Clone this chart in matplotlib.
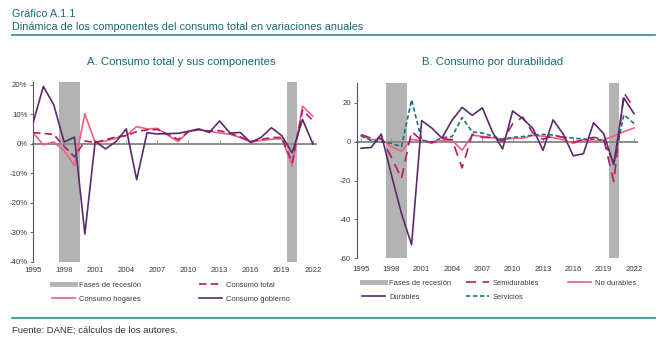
import matplotlib
matplotlib.use("Agg")
import matplotlib.pyplot as plt
from matplotlib.lines import Line2D

plt.rcParams['font.family'] = ['Liberation Sans', 'DejaVu Sans']

# ---- data (annual % change) ----
years = list(range(1995, 2023))
recessions = [(1997.5, 1999.5), (2019.5, 2020.5)]

consumo_total = [3.8, 3.6, 3.2, -0.8, -4.4, 1.0, 0.5, 1.4, 2.4, 2.8, 4.2, 4.8, 4.9, 3.3,
                 1.5, 4.2, 4.9, 4.4, 4.5, 3.6, 2.4, 0.9, 1.5, 2.2, 2.2, -6.2, 11.4, 7.9]
consumo_hogares = [3.8, -0.3, 0.7, -2.3, -7.3, 10.2, 0.5, 1.0, 2.0, 2.9, 5.9, 5.1, 5.3, 3.0,
                   0.8, 4.2, 4.8, 4.3, 3.7, 3.3, 2.2, 0.6, 1.2, 1.6, 1.8, -7.4, 12.8, 9.4]
consumo_gobierno = [7.1, 19.5, 13.3, 0.7, 2.3, -30.5, 0.9, -1.7, 0.8, 5.1, -12.1, 3.8, 3.4, 3.5,
                    3.6, 4.3, 5.1, 3.9, 7.8, 3.7, 3.9, 0.5, 2.2, 5.5, 2.8, -3.0, 8.3, 0.0]

durables = [-3.4, -3.0, 3.9, -17.0, -37.0, -53.0, 10.8, 7.0, 1.8, 11.0, 17.6, 13.5, 17.4, 5.0,
            -3.8, 15.8, 11.8, 6.8, -4.5, 11.2, 3.9, -7.3, -6.2, 9.7, 4.1, -11.8, 22.5, 14.4]
semidurables = [3.6, 1.8, 1.8, -8.0, -19.0, 5.3, 0.5, -0.7, 1.5, 1.0, -13.5, 3.8, 2.2, 2.0,
                0.3, 9.2, 12.6, 4.4, 1.2, 3.1, 2.2, -0.3, 1.0, 2.2, 1.4, -20.5, 25.0, 17.5]
no_durables = [3.1, 1.0, 1.2, -2.6, -4.9, 1.2, 0.4, -0.2, 0.5, 0.7, -4.4, 3.3, 2.7, 2.0,
               1.1, 1.7, 1.7, 3.2, 2.8, 2.1, 0.9, -0.8, 0.9, 0.1, 0.9, 3.0, 5.1, 7.0]
servicios = [3.0, 0.5, 0.0, -0.9, -2.6, 21.5, 0.8, -0.2, 2.0, 2.6, 12.4, 5.0, 4.4, 2.9,
             1.2, 2.2, 2.6, 3.4, 3.7, 3.4, 2.3, 1.8, 1.3, 1.2, 1.0, -11.2, 13.8, 9.4]

xlabels = years[::3]

TEAL = '#1b6870'
RULE = '#2b8e97'
GRAY = '#b3b3b3'
PURPLE = '#5b2a6b'
PINK = '#f0607a'
MAGENTA = '#b5186b'
DTEAL = '#1d6e76'
TXT = '#3a3a3a'

W, H = 668, 346
fig = plt.figure(figsize=(W / 100, H / 100), dpi=100)


def px(x, y):
    return x / W, 1 - y / H


def setup(ax, xlim, ylim, yticks, ylabels, label_pad):
    ax.set_xlim(*xlim)
    ax.set_ylim(*ylim)
    for a, b in recessions:
        ax.axvspan(a, b, color=GRAY, lw=0, zorder=0)
    for s in ['top', 'right']:
        ax.spines[s].set_visible(False)
    ax.spines['left'].set_color('#555555')
    ax.spines['left'].set_linewidth(0.8)
    ax.spines['bottom'].set_position(('data', 0))
    ax.spines['bottom'].set_color('#8c8c8c')
    ax.spines['bottom'].set_linewidth(1.4)
    ax.spines['bottom'].set_zorder(1)
    ax.set_yticks(yticks)
    ax.set_yticklabels(ylabels)
    ax.tick_params(axis='y', length=2.5, width=0.6, color='#555555',
                   labelsize=5.6, labelcolor=TXT, pad=1.5)
    ax.set_xticks(xlabels)
    ax.tick_params(axis='x', direction='in', length=3, width=0.6, color='#8c8c8c',
                   labelbottom=False)
    sec = ax.secondary_xaxis(0)
    sec.set_xticks(xlabels)
    sec.set_xticklabels([str(y) for y in xlabels])
    sec.spines['bottom'].set_visible(False)
    sec.tick_params(length=0, labelsize=5.6, labelcolor=TXT, pad=label_pad)


# ---- header ----
fig.text(*px(12, 14), 'Gráfico A.1.1', fontsize=7.8, color=TEAL, va='center')
fig.text(*px(12, 27), 'Dinámica de los componentes del consumo total en variaciones anuales',
         fontsize=7.8, color=TEAL, va='center')
fig.add_artist(Line2D([12 / W, 655 / W], [1 - 35 / H] * 2, color=RULE, lw=1.2))

# ---- panel A ----
axA = fig.add_axes([33 / W, 1 - 262 / H, 283 / W, 180 / H])
setup(axA, (1995, 2022.3), (-40, 21), [20, 10, 0, -10, -20, -30, -40],
      ['20%', '10%', '0%', '-10%', '-20%', '-30%', '-40%'], 3.5)
axA.plot(years, consumo_hogares, color=PINK, lw=1.2, zorder=3)
axA.plot(years, consumo_total, color=MAGENTA, lw=1.2, dashes=(4.5, 2.5), zorder=4)
axA.plot(years, consumo_gobierno, color=PURPLE, lw=1.2, zorder=5)
fig.text(*px(181, 62), 'A. Consumo total y sus componentes', fontsize=8.2,
         color=TEAL, ha='center', va='center')

# ---- panel B ----
axB = fig.add_axes([356.7 / W, 1 - 258.3 / H, 280.3 / W, 175 / H])
setup(axB, (1994.57, 2022.3), (-60, 30), [20, 0, -20, -40, -60],
      ['20', '0', '-20', '-40', '-60'], 5.5)
axB.plot(years, no_durables, color=PINK, lw=1.2, zorder=3)
axB.plot(years, servicios, color=DTEAL, lw=1.2, dashes=(2.6, 1.6), zorder=4)
axB.plot(years, semidurables, color=MAGENTA, lw=1.2, dashes=(6, 4), zorder=5)
axB.plot(years, durables, color=PURPLE, lw=1.2, zorder=6)
fig.text(*px(493, 62), 'B. Consumo por durabilidad', fontsize=8.2,
         color=TEAL, ha='center', va='center')


# ---- legends (one entry each, placed like the original) ----
def entry(handle, label, x, y):
    fig.legend([handle], [label], loc='center left', bbox_to_anchor=px(x, y),
               frameon=False, fontsize=5.4, handlelength=3.1, handletextpad=0.5,
               borderpad=0, borderaxespad=0, labelcolor=TXT)


rec = Line2D([], [], color=GRAY, lw=3.5)
entry(rec, 'Fases de recesión', 52, 285)
entry(Line2D([], [], color=MAGENTA, lw=1.2, dashes=(4.5, 2.5)), 'Consumo total', 199, 285)
entry(Line2D([], [], color=PINK, lw=1.2), 'Consumo hogares', 52, 299)
entry(Line2D([], [], color=PURPLE, lw=1.2), 'Consumo gobierno', 199, 299)

entry(rec, 'Fases de recesión', 362, 283)
entry(Line2D([], [], color=MAGENTA, lw=1.2, dashes=(6, 4)), 'Semidurables', 466, 283)
entry(Line2D([], [], color=PINK, lw=1.2), 'No durables', 568, 283)
entry(Line2D([], [], color=PURPLE, lw=1.2), 'Durables', 362, 297)
entry(Line2D([], [], color=DTEAL, lw=1.2, dashes=(2.6, 1.6)), 'Servicios', 466, 297)

# ---- footer ----
fig.add_artist(Line2D([12 / W, 655 / W], [1 - 318 / H] * 2, color=RULE, lw=1.2))
fig.text(*px(12, 330), 'Fuente: DANE; cálculos de los autores.', fontsize=6.8,
         color='#333333', va='center')

fig.savefig('out.png', dpi=100)
